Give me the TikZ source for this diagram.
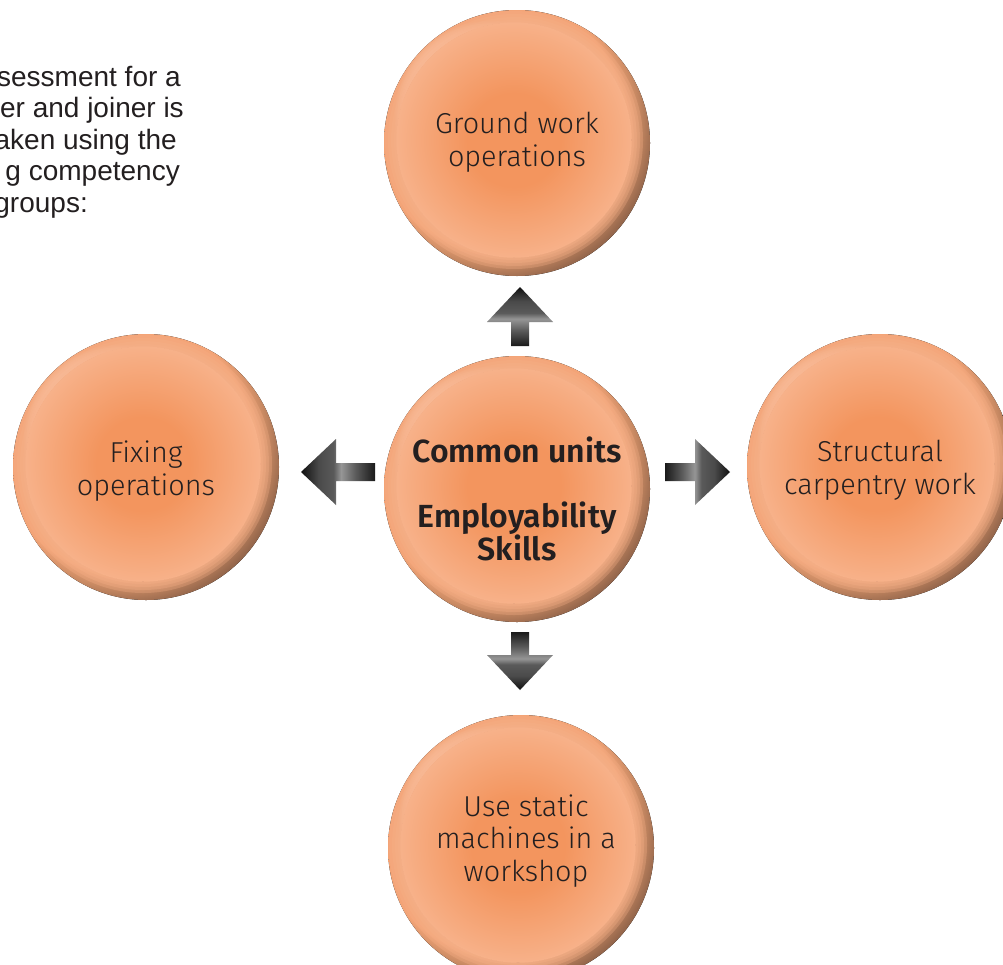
\documentclass[tikz,border=0pt]{standalone}
\usepackage{fontspec}
\setmainfont{Fira Sans Light}[BoldFont={Fira Sans SemiBold}]
\newfontfamily\arialfont{Liberation Sans}
\usetikzlibrary{calc}

\definecolor{faceIn}{HTML}{F3955E}
\definecolor{faceOut}{HTML}{F7B189}
\definecolor{rimLight}{HTML}{FDE9DC}
\definecolor{rimMid}{HTML}{F3A477}
\definecolor{rimWarm}{HTML}{C98A63}
\definecolor{rimBrown}{HTML}{9A6A4E}
\definecolor{rimDark}{HTML}{74513E}
\definecolor{txt}{HTML}{231F20}
\definecolor{mA}{HTML}{1A1A1A}
\definecolor{mB}{HTML}{5A5A5A}
\definecolor{mC}{HTML}{969696}
\definecolor{mD}{HTML}{4A4A4A}
\definecolor{mE}{HTML}{101010}

\pgfdeclareradialshading{bubbleface}{\pgfpoint{0bp}{0bp}}{color(0bp)=(faceIn); color(10bp)=(faceIn); color(25bp)=(faceOut); color(50bp)=(faceOut)}
\pgfdeclareradialshading{bubblerim}{\pgfpoint{-8bp}{8bp}}{color(0bp)=(rimLight); color(14bp)=(rimLight); color(18bp)=(rimMid); color(24bp)=(rimMid); color(26.5bp)=(rimWarm); color(29bp)=(rimBrown); color(31.5bp)=(rimDark); color(50bp)=(rimDark)}
\pgfdeclarehorizontalshading{metal}{100bp}{color(0bp)=(mA); color(25bp)=(mA); color(38bp)=(mB); color(48bp)=(mC); color(53bp)=(mB); color(63bp)=(mD); color(75bp)=(mE); color(100bp)=(mE)}

\tikzset{
  bubble/.style={circle, minimum size=266pt, inner sep=0pt},
  btext/.style={align=center, text=txt, font=\fontsize{28.8}{32.5}\selectfont},
  bbold/.style={align=center, text=txt, font=\bfseries\fontsize{32}{32.5}\selectfont},
  intro/.style={anchor=base east, inner sep=0pt, text=txt, font=\arialfont\fontsize{28}{31}\selectfont},
  pics/barrow/.style 2 args={code={
    \shade[shading=metal, shading angle=#2]
      (0pt,-9pt) -- ({#1pt-35pt},-9pt) -- ({#1pt-35pt},-33pt) -- (#1pt,0pt)
      -- ({#1pt-35pt},33pt) -- ({#1pt-35pt},9pt) -- (0pt,9pt) -- cycle;
  }}
}

\newcommand{\bubbleart}[1]{%
  \fill[shading=bubblerim] (#1.center) circle (133pt);
  \foreach \rr in {129,126,123,120} {
    \fill[faceOut, fill opacity=0.3] ($(#1.center)+(-3pt,3pt)$) circle (\rr pt);
  }
  \fill[shading=bubbleface] ($(#1.center)+(-3pt,3pt)$) circle (117pt);
  \draw[faceOut, line width=1.4pt] ($(#1.center)+(-3pt,3pt)$) circle (117pt);
}

\begin{document}
\begin{tikzpicture}[x=1pt,y=1pt]
\useasboundingbox (0,0) rectangle (1003,-964);
\clip (0,0) rectangle (1003,-964);
\fill[white] (0,0) rectangle (1003,-964);

% bubbles
\node[bubble] (T) at (517,-143) {};
\node[bubble] (C) at (517,-489) {};
\node[bubble] (L) at (146,-467) {};
\node[bubble] (R) at (880,-467) {};
\node[bubble] (B) at (521,-848) {};

\foreach \n in {T,C,L,R,B} { \bubbleart{\n} }

% texts
\node[btext] (tT) at ([yshift=1pt]T.center) {Ground work\\operations};
\node[bbold] (tC) at ([yshift=-10pt]C.center) {Common units\\[32.5pt]Employability\\Skills};
\node[btext] (tL) at ([yshift=-4pt]L.center) {Fixing\\operations};
\node[btext] (tR) at ([yshift=-3pt]R.center) {Structural\\carpentry work};
\node[btext] (tB) at ([xshift=5pt,yshift=7pt]B.center) {Use static\\machines in a\\workshop};

% block arrows
\pic[rotate=90]  at (520,-346) {barrow={59}{90}};
\pic[rotate=-90] at (520,-632) {barrow={58}{270}};
\pic[rotate=180] at (375,-472) {barrow={74}{180}};
\pic             at (665,-472) {barrow={65}{0}};

% intro text (cut off at left edge)
\node[intro] (i1) at (181,-86) {sessment for a};
\node[intro] (i2) at (184,-117.5) {er and joiner is};
\node[intro] (i3) at (177,-149) {aken using the};
\node[intro] (i4) at (180,-180.5) {g competency};
\node[intro] (i5) at (88,-212) {groups:};
\end{tikzpicture}
\end{document}
